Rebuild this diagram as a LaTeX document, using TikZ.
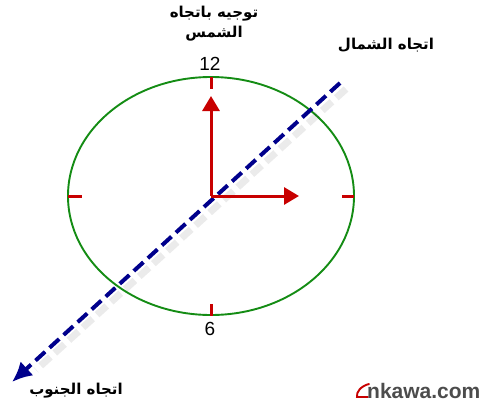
\documentclass[tikz,border=0pt]{standalone}
\usepackage{fontspec}
\setmainfont{Liberation Sans}
\newfontfamily\arabicfont[Script=Arabic]{DejaVu Sans}
\TeXXeTstate=1
\usepackage{tikz}
\usetikzlibrary{arrows.meta,positioning,calc}

\definecolor{dialgreen}{RGB}{20,140,20}
\definecolor{handred}{RGB}{200,0,0}
\definecolor{axisblue}{RGB}{0,0,140}

\begin{document}
\begin{tikzpicture}[
  x=1pt, y=-1pt,
  label/.style={font=\arabicfont\bfseries\fontsize{15}{19}\selectfont, align=center, inner sep=0pt},
  hour/.style={font=\fontsize{19}{19}\selectfont, inner sep=0pt},
  tick/.style={draw=handred, line width=3pt},
  hand/.style={draw=handred, line width=3pt, -{Triangle[length=15pt,width=17pt]}},
  axis/.style={draw=axisblue, line width=4pt, dash pattern=on 13pt off 6pt, -{Latex[length=20pt,width=19pt]}},
  shade/.style={draw=black, opacity=0.08, line width=7pt, dash pattern=on 13pt off 6pt}
]
\useasboundingbox (0,0) rectangle (485,405);

% dial
\coordinate (centre) at (211,196);
\draw[dialgreen, line width=1.9pt] (centre) ellipse [x radius=143, y radius=119];
\draw[tick] (211,77) -- (211,89);
\draw[tick] (211,304) -- (211,316);
\draw[tick] (68,196) -- (82,196);
\draw[tick] (342,196) -- (354,196);
\node[hour] (twelve) at (210,64) {12};
\node[hour] (six) at (210,329) {6};

% north-south line
\coordinate (north) at (340,83);
\coordinate (south) at (12,382);
\draw[shade] ($(north)+(6,6)$) -- ($(south)+(24,-12)$);
\draw[axis] (north) -- (south);

% hands
\coordinate (noon) at (211,96);
\coordinate (east) at (299,196);
\draw[hand] (centre) -- (noon);
\draw[hand] (centre) -- (east);

% labels
\node[label] (sun) at (214,24) {\beginR توجيه باتجاه\endR\\[1pt]\beginR الشمس\endR};
\node[label] (northlbl) at (386,45) {\beginR اتجاه الشمال\endR};
\node[label] (southlbl) at (76,391) {\beginR اتجاه الجنوب\endR};

% watermark
\draw[handred, line width=1.9pt, line cap=round] (369,384) .. controls (361,386) and (356,392) .. (357,397) -- (368,397);
\node[font=\bfseries\fontsize{21}{21}\selectfont, text=black!70, inner sep=0pt, anchor=west] (mark) at (367,391) {nkawa.com};
\end{tikzpicture}
\end{document}
